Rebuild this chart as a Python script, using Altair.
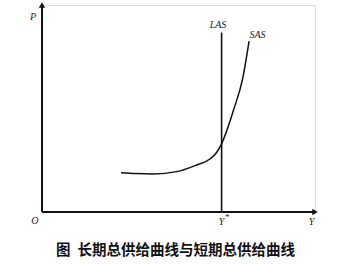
import altair as alt
import pandas as pd

# SAS curve (output Y, price level P); Y* = 100
sas_y = [44, 52, 62, 75, 86, 93.5, 97.4, 100.2, 103, 106.3, 111.9, 115.3]
sas_p = [19.0, 18.6, 18.4, 19.5, 22.7, 25.6, 29.0, 33.3, 39.6, 48.3, 65.2, 82.6]
y_star = 100
las_top = 86.7
x_max = 152
p_max = 100

labels_text = ["P", "O", "Y", "Y", "LAS", "SAS"]
labels_x = [-5, -4, 100, 150, 98, 120]
labels_p = [94, -4.5, -5, -5, 90.5, 85.5]

xs = alt.Scale(domain=[0, x_max], nice=False, zero=False)
ys = alt.Scale(domain=[0, p_max], nice=False, zero=False)

sas = pd.DataFrame({"Y": sas_y, "P": sas_p})
axes = pd.DataFrame({"x": [0, 0], "y": [0, 0], "x2": [0, x_max], "y2": [p_max, 0]})
las = pd.DataFrame({"x": [y_star], "y": [0], "y2": [las_top]})
arrows = pd.DataFrame({"x": [0, x_max], "y": [p_max, 0],
                       "shape": ["triangle-up", "triangle-right"]})
labels = pd.DataFrame({"t": labels_text, "x": labels_x, "y": labels_p})
star = pd.DataFrame({"t": ["*"], "x": [y_star + 3.2], "y": [-2.6]})

axis_rules = alt.Chart(axes).mark_rule(color="#111", strokeWidth=2).encode(
    x=alt.X("x:Q", scale=xs, axis=None), y=alt.Y("y:Q", scale=ys, axis=None),
    x2="x2:Q", y2="y2:Q")

arrow_pts = alt.Chart(arrows).mark_point(filled=True, color="#111", size=40, opacity=1).encode(
    x=alt.X("x:Q", scale=xs, axis=None), y=alt.Y("y:Q", scale=ys, axis=None),
    shape=alt.Shape("shape:N", scale=None))

las_rule = alt.Chart(las).mark_rule(color="#111", strokeWidth=1.6).encode(
    x=alt.X("x:Q", scale=xs, axis=None), y=alt.Y("y:Q", scale=ys, axis=None), y2="y2:Q")

sas_line = alt.Chart(sas).mark_line(color="#111", strokeWidth=1.5, interpolate="monotone").encode(
    x=alt.X("Y:Q", scale=xs, axis=None), y=alt.Y("P:Q", scale=ys, axis=None), order="Y:Q")

text = alt.Chart(labels).mark_text(font="Liberation Serif", fontStyle="italic", fontSize=10,
                                   color="#222", align="center", baseline="middle").encode(
    x=alt.X("x:Q", scale=xs, axis=None), y=alt.Y("y:Q", scale=ys, axis=None), text="t:N")

star_t = alt.Chart(star).mark_text(font="Liberation Serif", fontSize=9, color="#222",
                                   baseline="middle").encode(
    x=alt.X("x:Q", scale=xs, axis=None), y=alt.Y("y:Q", scale=ys, axis=None), text="t:N")

chart = alt.layer(axis_rules, arrow_pts, las_rule, sas_line, text, star_t).properties(
    width=273, height=207,
    padding={"left": 42, "top": 5, "right": 25, "bottom": 52},
    autosize=alt.AutoSizeParams(type="none"),
    title=alt.Title("图\u2002长期总供给曲线与短期总供给曲线", orient="bottom", anchor="middle",
                    font="Noto Sans CJK SC", fontSize=14.5, fontWeight="bold",
                    color="#111", offset=17, dx=-3),
).configure_view(stroke=None).configure(background="white")

chart.save("out.html", embed_options={"renderer": "svg", "actions": False})
